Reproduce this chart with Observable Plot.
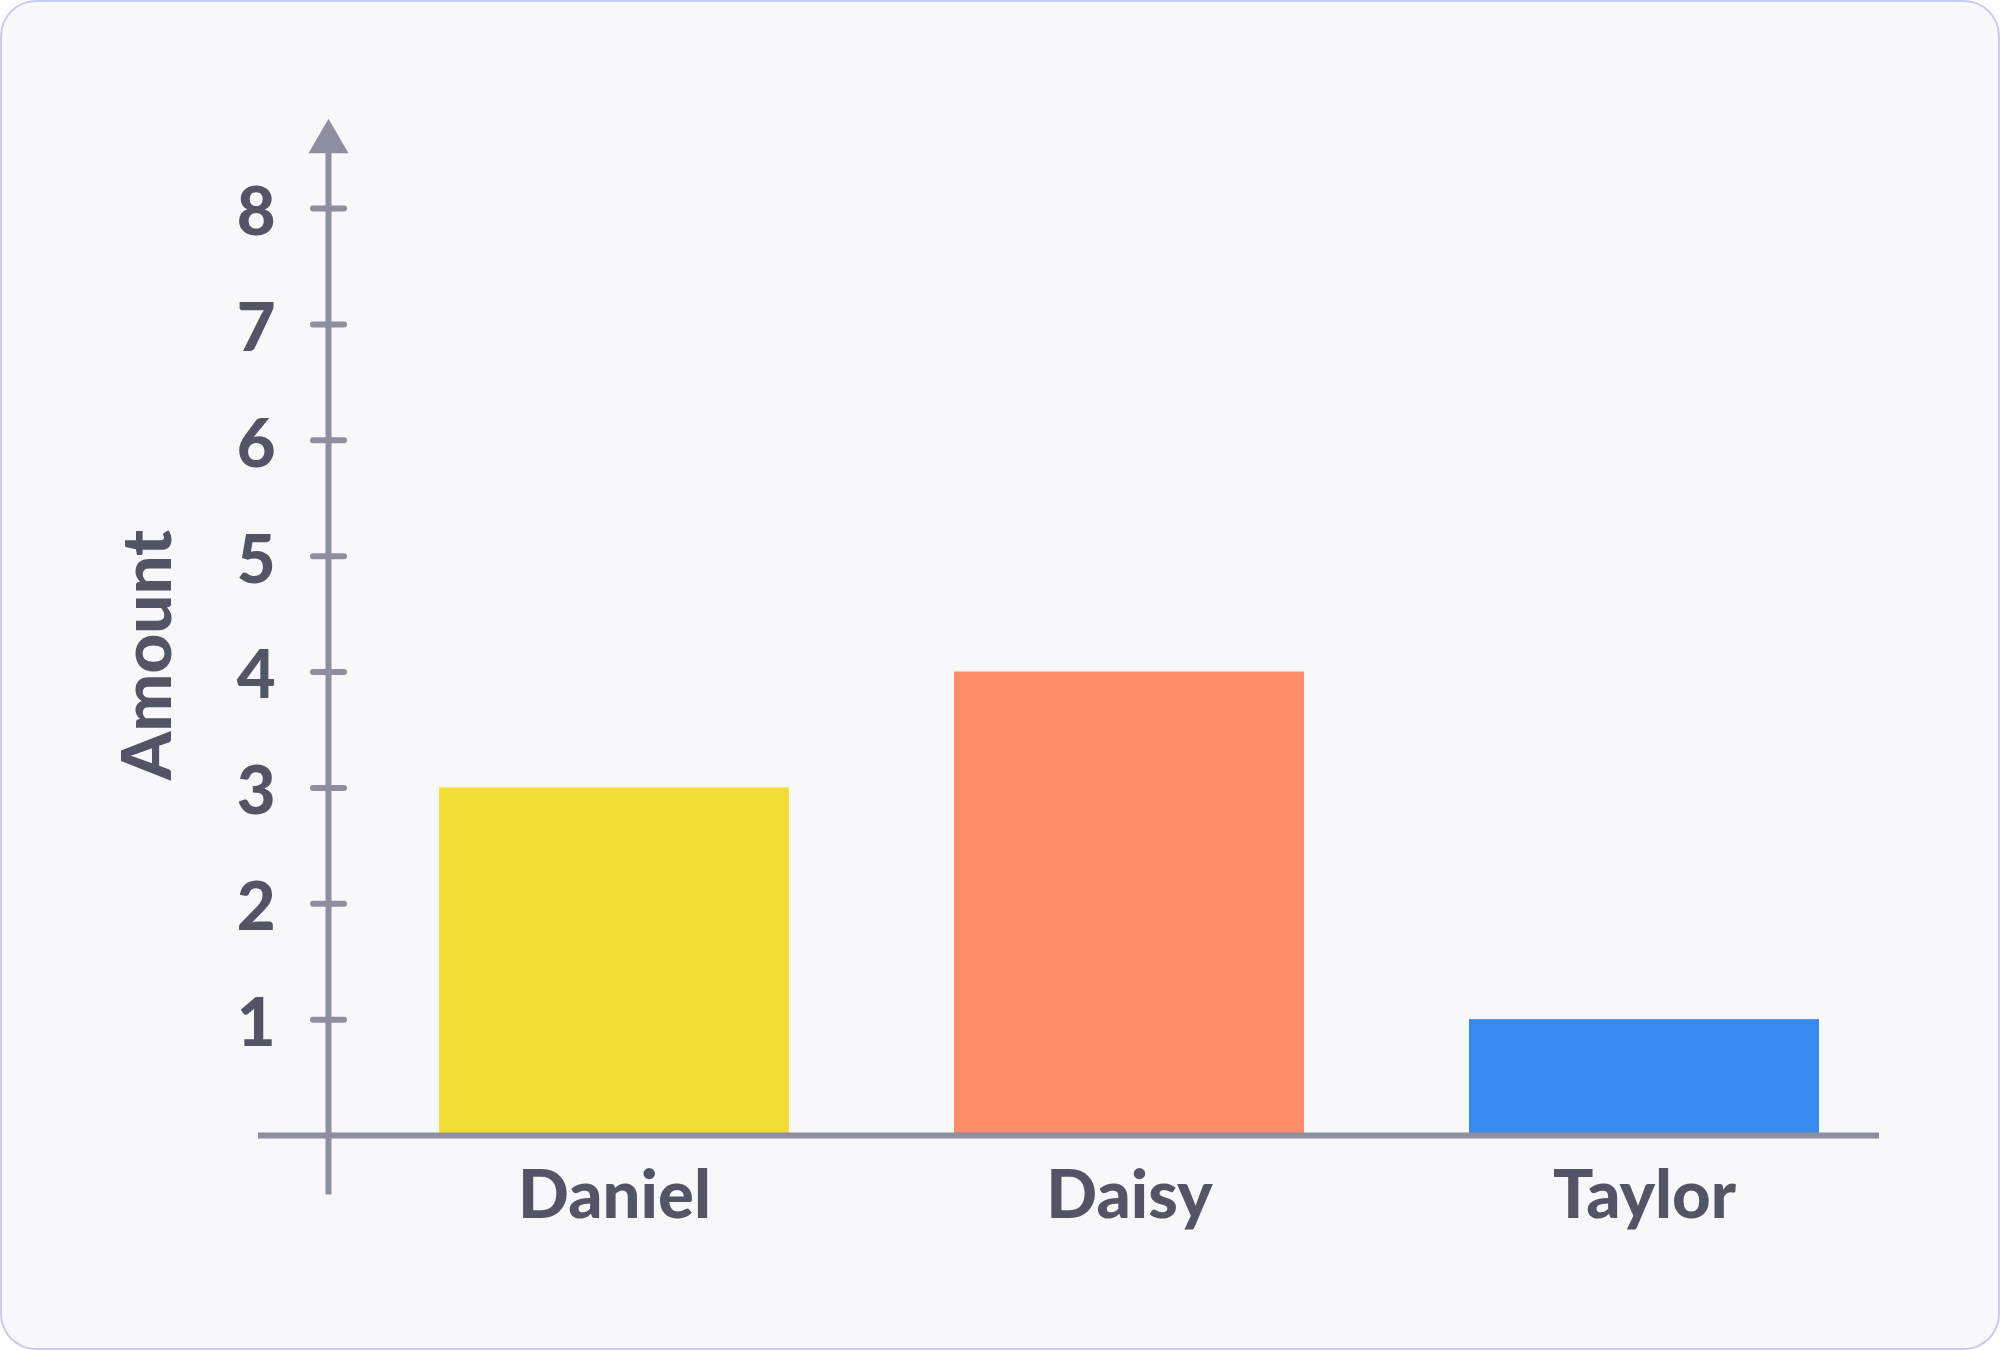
<!DOCTYPE html>
<html>
<head>
<meta charset="utf-8">
<script src="https://cdn.jsdelivr.net/npm/d3@7"></script>
<script src="https://cdn.jsdelivr.net/npm/@observablehq/plot@0.6"></script>
<style>
  html, body { margin: 0; padding: 0; background: #ffffff; }
  #card {
    position: relative;
    width: 2000px; height: 1350px;
    box-sizing: border-box;
    background: #F8F8FA;
    border-radius: 36px;
    box-shadow: inset 0 0 0 2px #C9C9F2;
    overflow: hidden;
  }
  #card svg { position: absolute; left: 0; top: 0; background: transparent; }
</style>
</head>
<body>
<div id="card"></div>
<script>
const names = ["Daniel", "Daisy", "Taylor"];
const amounts = [3, 4, 1];
const barColors = ["#F2DE36", "#FF8E6A", "#388CF0"];
const yTicks = [1, 2, 3, 4, 5, 6, 7, 8];
const yLabel = "Amount";

const data = names.map((name, i) => ({name, amount: amounts[i], color: barColors[i]}));

const axisColor = "#8E8EA1";
const textColor = "#535466";
const font = "Lato, 'Open Sans', sans-serif";
const fw = 900;
const fs = 67;

const chart = Plot.plot({
  width: 2000,
  height: 1350,
  marginLeft: 328,
  marginRight: 70.5,
  marginTop: 208,
  marginBottom: 215,
  style: {background: "transparent", fontFamily: font, color: textColor, overflow: "visible"},
  x: {type: "band", domain: names, paddingInner: 0.32, paddingOuter: 0.212, axis: null},
  y: {domain: [0, 8], axis: null},
  marks: [
    Plot.barY(data, {x: "name", y: "amount", fill: "color"}),
    // x axis line
    Plot.ruleY([0], {stroke: axisColor, strokeWidth: 6, insetLeft: -70, insetRight: 50.5}),
    // y axis line
    Plot.frame({anchor: "left", stroke: axisColor, strokeWidth: 6, insetTop: -56, insetBottom: -56}),
    // arrow head
    Plot.dot([8.576], {y: d => d, frameAnchor: "left", symbol: "triangle", r: 14.85, fill: axisColor, stroke: "none"}),
    // y ticks
    Plot.axisY({ticks: yTicks, tickSize: 31, dx: 16, fill: "none", label: null,
                stroke: axisColor, strokeWidth: 6, strokeLinecap: "round"}),
    // y tick labels
    Plot.axisY({ticks: yTicks, tickSize: 0, tickPadding: 53, label: null,
                fill: textColor, fontSize: fs, fontWeight: fw, dy: 5}),
    // x labels
    Plot.axisX({tickSize: 0, tickPadding: 35, label: null, fill: textColor,
                fontSize: fs, fontWeight: fw}),
    // y label
    Plot.text([yLabel], {frameAnchor: "left", textAnchor: "middle", dx: -180, dy: -17, rotate: -90,
                fill: textColor, fontSize: fs + 2, fontWeight: fw})
  ]
});

document.getElementById("card").appendChild(chart);
</script>
</body>
</html>
